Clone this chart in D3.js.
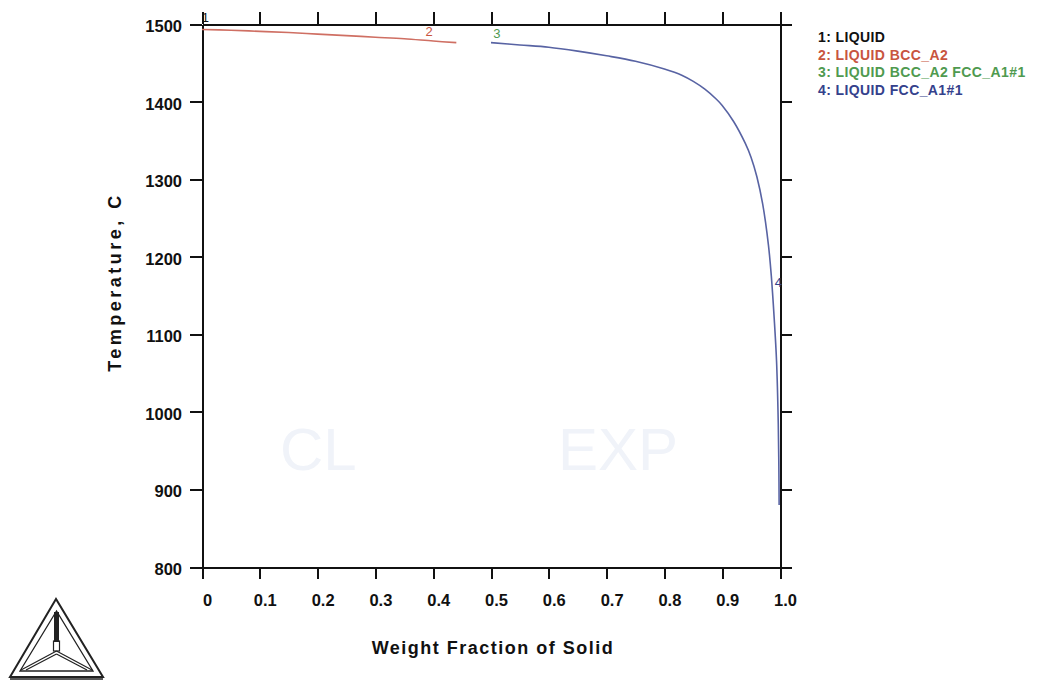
<!DOCTYPE html>
<html>
<head>
<meta charset="utf-8">
<script src="https://cdn.jsdelivr.net/npm/d3@7"></script>
<style>
  html, body { margin: 0; padding: 0; background: #ffffff; }
  svg { display: block; }
  .axis path, .axis line { stroke: #111; stroke-width: 2; shape-rendering: crispEdges; }
  .axis text { font-family: "Liberation Sans", Arial, sans-serif; font-weight: bold; font-size: 16.5px; fill: #111; }
</style>
</head>
<body>
<svg id="chart" width="1061" height="680"></svg>
<script>
// Solidification path: weight fraction of solid vs temperature (C)
const xTicks = [0, 0.1, 0.2, 0.3, 0.4, 0.5, 0.6, 0.7, 0.8, 0.9, 1.0];
const xTickLabels = ["0", "0.1", "0.2", "0.3", "0.4", "0.5", "0.6", "0.7", "0.8", "0.9", "1.0"];
const yTicks = [800, 900, 1000, 1100, 1200, 1300, 1400, 1500];

// Region 2: LIQUID + BCC_A2
const bccFraction = [0, 0.05, 0.10, 0.15, 0.20, 0.25, 0.30, 0.35, 0.40, 0.44];
const bccTemp     = [1493, 1492, 1490.5, 1489, 1487, 1485, 1483, 1481, 1478, 1476];

// Region 4: LIQUID + FCC_A1#1
const fccFraction = [0.50, 0.55, 0.60, 0.65, 0.70, 0.75, 0.80, 0.83, 0.85, 0.87, 0.89, 0.90, 0.92, 0.94, 0.95, 0.96, 0.97, 0.98, 0.985, 0.99, 0.994, 0.997, 0.998, 0.9985];
const fccTemp     = [1476, 1473, 1470, 1465, 1459, 1452, 1442, 1434, 1426, 1416, 1403, 1395, 1374, 1346, 1328, 1303, 1268, 1215, 1175, 1120, 1066, 985, 930, 880];

// Curve number labels placed on the path
const tagText     = ["1", "2", "3", "4"];
const tagFraction = [0.006, 0.393, 0.51, 0.997];
const tagTemp     = [1508, 1491, 1488, 1167];

// Legend entries
const legendText = ["1: LIQUID", "2: LIQUID BCC_A2", "3: LIQUID BCC_A2 FCC_A1#1", "4: LIQUID FCC_A1#1"];
const phaseColors = ["#111111", "#c8553f", "#4f9a4f", "#34418c"];
const lineColors  = ["#111111", "#cf6f63", "#5aa05a", "#5863a3"];

const svg = d3.select("#chart");

const x = d3.scaleLinear().domain([0, 1]).range([202, 780]);
const y = d3.scaleLinear().domain([800, 1500]).range([567, 24]);

// faint background stamp
const stamp = svg.append("g").attr("fill", "#f0f3f9")
  .attr("font-family", "Liberation Sans, Arial, sans-serif").attr("font-size", 60);
stamp.append("text").attr("x", 280).attr("y", 470).text("CL");
stamp.append("text").attr("x", 558).attr("y", 470).text("EXP");

// axes
const fmtX = d => xTickLabels[xTicks.indexOf(d)];
const gB = svg.append("g").attr("class", "axis").attr("transform", `translate(0,${y(800)})`)
  .call(d3.axisBottom(x).tickValues(xTicks).tickFormat(fmtX).tickSize(12).tickSizeOuter(0).tickPadding(15));
gB.selectAll("text").attr("dx", 5);
svg.append("g").attr("class", "axis").attr("transform", `translate(0,${y(1500)})`)
  .call(d3.axisTop(x).tickValues(xTicks).tickFormat("").tickSize(12).tickSizeOuter(0));
const gL = svg.append("g").attr("class", "axis").attr("transform", `translate(${x(0)},0)`)
  .call(d3.axisLeft(y).tickValues(yTicks).tickFormat(d3.format("d")).tickSize(12).tickSizeOuter(0).tickPadding(8));
gL.selectAll("text").attr("dy", "0.45em").attr("font-size", 17.5);
svg.append("g").attr("class", "axis").attr("transform", `translate(${x(1)},0)`)
  .call(d3.axisRight(y).tickValues(yTicks).tickFormat("").tickSize(12).tickSizeOuter(0));

// curves
const line = d3.line().x(d => x(d[0])).y(d => y(d[1])).curve(d3.curveCatmullRom.alpha(0.5));
svg.append("path").datum(bccFraction.map((f, i) => [f, bccTemp[i]]))
  .attr("d", line).attr("fill", "none").attr("stroke", lineColors[1]).attr("stroke-width", 1.6);
svg.append("path").datum(fccFraction.map((f, i) => [f, fccTemp[i]]))
  .attr("d", line).attr("fill", "none").attr("stroke", lineColors[3]).attr("stroke-width", 1.6);

// curve number tags
svg.append("g").selectAll("text").data(tagText).join("text")
  .attr("x", (d, i) => x(tagFraction[i])).attr("y", (d, i) => y(tagTemp[i]))
  .attr("text-anchor", "middle").attr("dy", "0.35em")
  .attr("font-family", "Liberation Sans, Arial, sans-serif").attr("font-size", 13)
  .attr("fill", (d, i) => phaseColors[i]).text(d => d);

// axis titles
svg.append("text").attr("x", 493).attr("y", 654).attr("text-anchor", "middle")
  .attr("font-family", "Liberation Sans, Arial, sans-serif").attr("font-weight", "bold").attr("font-size", 18)
  .attr("letter-spacing", 1.5).attr("fill", "#111").text("Weight Fraction of Solid");
svg.append("text").attr("transform", "translate(121,282) rotate(-90)").attr("text-anchor", "middle")
  .attr("font-family", "Liberation Sans, Arial, sans-serif").attr("font-weight", "bold").attr("font-size", 18)
  .attr("letter-spacing", 3.5).attr("fill", "#111").text("Temperature, C");

// legend
svg.append("g").selectAll("text").data(legendText).join("text")
  .attr("x", 818).attr("y", (d, i) => 42 + i * 17.5)
  .attr("font-family", "Liberation Sans, Arial, sans-serif").attr("font-weight", "bold").attr("font-size", 14)
  .attr("letter-spacing", 0.4)
  .attr("fill", (d, i) => phaseColors[i]).text(d => d);

// logo: nested triangles with a central junction
const logo = svg.append("g").attr("fill", "none").attr("stroke", "#222");
logo.append("path").attr("d", "M56,599 L10,677 L103,677 Z").attr("stroke-width", 2);
logo.append("path").attr("d", "M56.5,611 L20,671 L93,671 Z").attr("stroke-width", 1.3);
logo.append("path").attr("d", "M56.5,612 L56.5,642").attr("stroke-width", 5);
logo.append("rect").attr("x", 53.5).attr("y", 641).attr("width", 6).attr("height", 10).attr("stroke-width", 1.2);
logo.append("path").attr("d", "M56.5,651 L21,670 M56.5,651 L92,670 M56.5,654 L26,670 M56.5,654 L87,670").attr("stroke-width", 1.2);
logo.append("path").attr("d", "M10,679 L103,679").attr("stroke-width", 1.5);
</script>
</body>
</html>
